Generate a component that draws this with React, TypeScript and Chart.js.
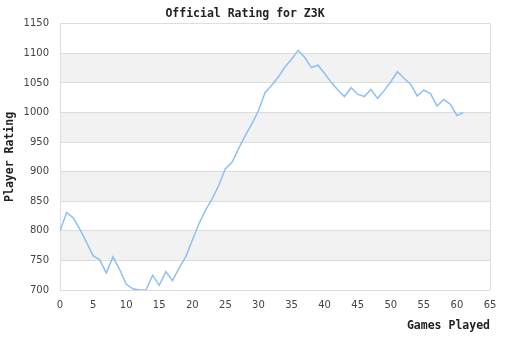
import React, { useEffect, useRef } from "react";
import { Chart, registerables } from "chart.js";

Chart.register(...registerables);

const games = [
  0, 1, 2, 3, 4, 5, 6, 7, 8, 9, 10, 11, 12, 13, 14, 15, 16, 17, 18, 19, 20,
  21, 22, 23, 24, 25, 26, 27, 28, 29, 30, 31, 32, 33, 34, 35, 36, 37, 38, 39,
  40, 41, 42, 43, 44, 45, 46, 47, 48, 49, 50, 51, 52, 53, 54, 55, 56, 57, 58,
  59, 60, 61,
];
const ratings = [
  800, 831, 822, 803, 781, 758, 751, 729, 756, 735, 710, 702, 700, 700, 725,
  708, 731, 716, 737, 756, 784, 812, 835, 854, 877, 905, 916, 939, 961, 981,
  1003, 1034, 1046, 1060, 1077, 1090, 1105, 1093, 1076, 1080, 1066, 1051, 1038,
  1027, 1042, 1031, 1027, 1039, 1024, 1037, 1052, 1069, 1058, 1048, 1028, 1038,
  1032, 1011, 1022, 1014, 995, 1000,
];
const shadedBands: [number, number][] = [
  [1050, 1100],
  [950, 1000],
  [850, 900],
  [750, 800],
];
const titleText = "Official Rating for Z3K";
const xTitle = "Games Played";
const yTitle = "Player Rating";

const bandPlugin = {
  id: "bands",
  beforeDraw(chart: any) {
    const { ctx, chartArea, scales } = chart;
    const y = scales.y;
    ctx.save();
    ctx.fillStyle = "#f2f2f2";
    for (const [lo, hi] of shadedBands) {
      const top = y.getPixelForValue(hi);
      const bot = y.getPixelForValue(lo);
      ctx.fillRect(chartArea.left, top, chartArea.right - chartArea.left, bot - top);
    }
    ctx.restore();
  },
};

const titleFont = { family: "'DejaVu Sans Mono', monospace", size: 11.5, weight: "bold" as const };
const tickFont = { family: "'DejaVu Sans', sans-serif", size: 10 };

export default function App() {
  const ref = useRef<HTMLCanvasElement>(null);
  useEffect(() => {
    if (!ref.current) return;
    const chart = new Chart(ref.current, {
      type: "line",
      data: {
        datasets: [
          {
            data: games.map((g, i) => ({ x: g, y: ratings[i] })),
            borderColor: "#8ec0f2",
            borderWidth: 1.5,
            pointRadius: 0,
            tension: 0,
            fill: false,
          },
        ],
      },
      plugins: [bandPlugin],
      options: {
        responsive: false,
        animation: false,
        layout: { padding: { right: 20, left: 0, top: 0, bottom: 0 } },
        plugins: {
          legend: { display: false },
          tooltip: { enabled: false },
          title: {
            display: true,
            text: titleText,
            color: "#222",
            font: titleFont,
            padding: { top: 7, bottom: 3 },
          },
        },
        scales: {
          x: {
            type: "linear",
            min: 0,
            max: 65,
            ticks: { stepSize: 5, color: "#444", font: tickFont, padding: 9, maxRotation: 0 },
            grid: {
              drawTicks: false,
              color: (c: any) =>
                c.tick && (c.tick.value === 0 || c.tick.value === 65) ? "#dddddd" : "transparent",
            },
            border: { display: false },
            title: {
              display: true,
              text: xTitle,
              align: "end",
              color: "#222",
              font: titleFont,
              padding: { top: 0, bottom: 7 },
            },
            afterFit: (s: any) => {
              s.height = 50;
            },
          },
          y: {
            min: 700,
            max: 1150,
            ticks: {
              stepSize: 50,
              color: "#444",
              font: tickFont,
              padding: 11,
              callback: (v: any) => String(v),
            },
            grid: { drawTicks: false, color: "#dddddd" },
            border: { display: false },
            title: {
              display: true,
              text: yTitle,
              color: "#222",
              font: titleFont,
              padding: { top: 3, bottom: 0 },
            },
            afterFit: (s: any) => {
              s.width = 60;
            },
          },
        },
      },
    });
    return () => chart.destroy();
  }, []);
  return (
    <canvas
      ref={ref}
      width={510}
      height={340}
      style={{ position: "absolute", left: 0, top: 0, width: 510, height: 340 }}
    />
  );
}
